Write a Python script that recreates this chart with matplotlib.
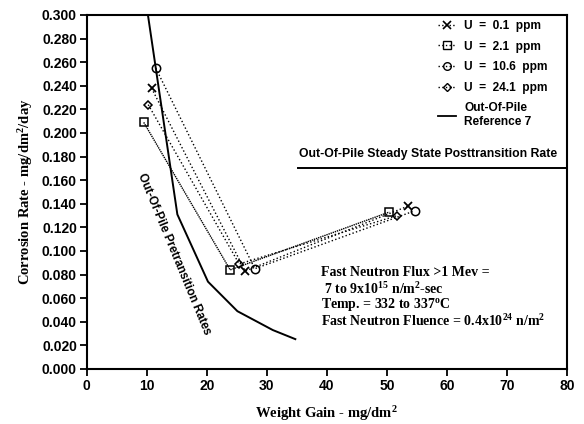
import matplotlib
matplotlib.use("Agg")
import matplotlib.pyplot as plt
from matplotlib.lines import Line2D

plt.rcParams['mathtext.fontset'] = 'custom'
plt.rcParams['mathtext.rm'] = 'Liberation Serif:bold'
plt.rcParams['mathtext.it'] = 'Liberation Serif:bold'
plt.rcParams['mathtext.bf'] = 'Liberation Serif:bold'

# ---- data ----
u01_x = [10.8, 26.4, 53.5]
u01_y = [0.238, 0.083, 0.138]
u21_x = [9.5, 23.9, 50.4]
u21_y = [0.209, 0.084, 0.133]
u106_x = [11.5, 28.0, 54.6]
u106_y = [0.255, 0.085, 0.134]
u241_x = [10.25, 25.4, 51.7]
u241_y = [0.224, 0.089, 0.130]
ref_x = [10.2, 15.1, 20.2, 25.1, 31.0, 34.9]
ref_y = [0.300, 0.131, 0.074, 0.049, 0.033, 0.025]
steady_x = [35.2, 80.0]
steady_y = [0.170, 0.170]

xticks = [0, 10, 20, 30, 40, 50, 60, 70, 80]
yticks = [i * 0.02 for i in range(16)]

sans = ['Liberation Sans', 'DejaVu Sans']
serif = ['Liberation Serif', 'DejaVu Serif']

fig = plt.figure(figsize=(5.84, 4.24), dpi=100)
ax = fig.add_axes([86.7 / 584, 1 - 369 / 424, (567 - 86.7) / 584, (369 - 15) / 424])

mk = dict(color='black', mfc='none', mec='black', lw=1.0)
ax.plot(u01_x, u01_y, ls=':', marker='x', ms=6, mew=1.3, **mk)
ax.plot(u21_x, u21_y, ls=(0, (1, 0.6)), marker='s', ms=6, mew=1.1, **mk)
ax.plot(u106_x, u106_y, ls=':', marker='o', ms=6, mew=1.1, **mk)
ax.plot(u241_x, u241_y, ls=':', marker='D', ms=4.5, mew=1.1, **mk)
ax.plot(ref_x, ref_y, color='black', lw=1.4, solid_capstyle='butt')
ax.plot(steady_x, steady_y, color='black', lw=1.4, clip_on=False)

ax.set_xlim(0, 80)
ax.set_ylim(0, 0.300)
ax.set_xticks(xticks)
ax.set_yticks(yticks)
ax.set_xticklabels([str(v) for v in xticks], fontfamily=sans, fontweight='bold', fontsize=10)
ax.set_yticklabels(['%.3f' % v for v in yticks], fontfamily=sans, fontweight='bold', fontsize=10)
ax.tick_params(direction='out', length=5, width=1.3, pad=2)
for s in ax.spines.values():
    s.set_linewidth(1.5)

ax.set_xlabel('Weight Gain - mg/dm$^2$', fontfamily=serif, fontweight='bold', fontsize=10.5, labelpad=8)
ax.set_ylabel('Corrosion Rate - mg/dm$^2$/day', fontfamily=serif, fontweight='bold', fontsize=10.5, labelpad=5)

ax.text(56.8, 0.182, 'Out-Of-Pile Steady State Posttransition Rate', ha='center', va='center',
        fontfamily=sans, fontweight='bold', fontsize=8.8)
ax.text(14.6, 0.097, 'Out-Of-Pile Pretransition Rates', ha='center', va='center', rotation=-67.5,
        rotation_mode='anchor', fontfamily=sans, fontweight='bold', fontsize=8.5)

ann = ['Fast Neutron Flux >1 Mev =',
       ' 7 to 9x10$^{15}$ n/m$^2$-sec',
       'Temp. = 332 to 337$^o$C',
       'Fast Neutron Fluence = 0.4x10$^{24}$ n/m$^2$']
ann_y = [0.0815, 0.0680, 0.0545, 0.0410]
for t, yy in zip(ann, ann_y):
    ax.text(39.1, yy, t, ha='left', va='center', fontfamily=serif, fontweight='bold', fontsize=10)

handles = [
    Line2D([], [], ls=':', marker='x', ms=5.5, mew=1.2, **mk),
    Line2D([], [], ls=':', marker='s', ms=5.5, mew=1.0, **mk),
    Line2D([], [], ls=':', marker='o', ms=5.5, mew=1.0, **mk),
    Line2D([], [], ls=':', marker='D', ms=4, mew=1.0, **mk),
    Line2D([], [], ls='-', color='black', lw=1.3),
]
labels = ['U  =  0.1  ppm', 'U  =  2.1  ppm', 'U  =  10.6  ppm', 'U  =  24.1  ppm',
          'Out-Of-Pile\nReference 7']
leg = ax.legend(handles, labels, loc='upper left', bbox_to_anchor=(438 / 584, 1 - 20 / 424),
                bbox_transform=fig.transFigure, frameon=False, borderaxespad=0, borderpad=0,
                handlelength=1.5, handletextpad=0.7, labelspacing=0.72,
                prop={'family': sans, 'weight': 'bold', 'size': 8.6})

fig.savefig('out.png', dpi=100)
